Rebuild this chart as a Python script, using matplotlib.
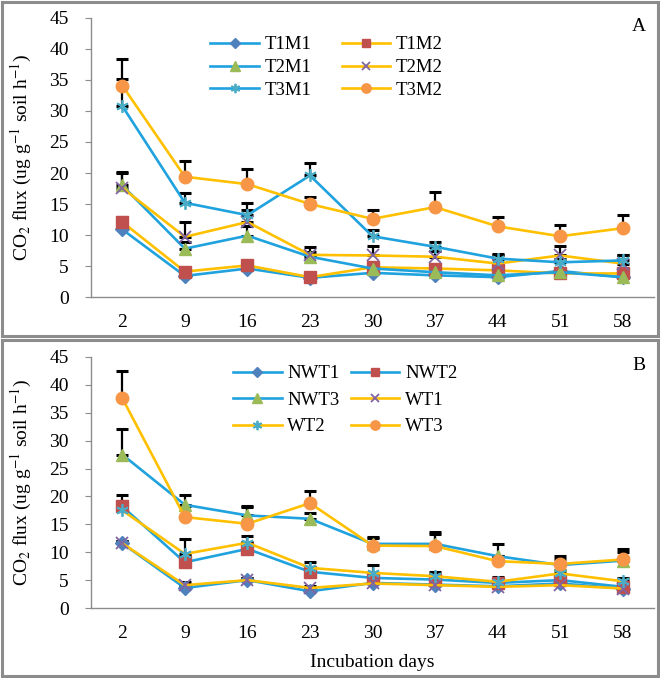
import numpy as np
import matplotlib
matplotlib.use("Agg")
import matplotlib.pyplot as plt
from matplotlib.patches import Rectangle

days = ["2", "9", "16", "23", "30", "37", "44", "51", "58"]

# panel A : means and upper error
t1m1 = [10.9, 3.4, 4.6, 3.1, 3.9, 3.5, 3.2, 4.2, 3.2]
t1m1_err = [0.7, 0.4, 0.5, 0.3, 0.4, 0.4, 0.3, 0.4, 0.3]
t1m2 = [12.1, 4.1, 5.1, 3.2, 4.8, 4.6, 4.3, 3.8, 3.8]
t1m2_err = [0.8, 0.6, 0.6, 0.4, 0.6, 0.5, 0.5, 0.5, 0.5]
t2m1 = [18.0, 7.8, 9.9, 6.5, 4.6, 4.0, 3.5, 4.0, 3.2]
t2m1_err = [2.0, 1.0, 1.5, 0.8, 0.8, 0.6, 0.6, 0.6, 0.5]
t2m2 = [17.6, 9.7, 12.1, 6.8, 6.7, 6.5, 5.4, 6.7, 5.4]
t2m2_err = [2.6, 2.4, 2.0, 1.2, 1.5, 1.0, 1.4, 1.5, 1.4]
t3m1 = [30.8, 15.2, 13.2, 19.6, 9.8, 8.1, 6.2, 5.6, 5.9]
t3m1_err = [4.4, 1.5, 1.9, 2.0, 1.0, 0.8, 0.8, 0.6, 0.8]
t3m2 = [34.1, 19.4, 18.2, 15.0, 12.6, 14.5, 11.4, 9.8, 11.1]
t3m2_err = [4.3, 2.6, 2.5, 1.2, 1.5, 2.4, 1.5, 1.8, 2.1]

# panel B
nwt1 = [11.6, 3.6, 5.0, 3.0, 4.5, 4.2, 3.9, 4.4, 3.5]
nwt1_err = [0.4, 0.5, 0.4, 0.4, 0.3, 0.3, 0.3, 0.3, 0.3]
nwt2 = [18.2, 8.2, 10.6, 6.5, 5.4, 5.1, 4.5, 5.0, 3.8]
nwt2_err = [2.1, 1.2, 1.2, 0.9, 0.8, 0.8, 0.6, 0.7, 0.7]
nwt3 = [27.5, 18.5, 16.6, 16.0, 11.5, 11.5, 9.3, 7.7, 8.5]
nwt3_err = [4.5, 1.8, 1.7, 1.0, 1.0, 2.2, 2.1, 1.0, 1.5]
wt1 = [11.6, 4.1, 5.0, 3.6, 4.4, 4.1, 3.8, 4.1, 3.5]
wt1_err = [0.4, 0.6, 0.4, 0.4, 0.3, 0.3, 0.3, 0.3, 0.3]
wt2 = [17.5, 9.7, 11.7, 7.2, 6.3, 5.7, 4.7, 6.2, 4.8]
wt2_err = [1.0, 2.6, 1.3, 1.0, 1.5, 0.8, 0.8, 0.7, 0.6]
wt3 = [37.6, 16.3, 15.1, 18.8, 11.2, 11.1, 8.4, 7.9, 8.7]
wt3_err = [4.9, 2.0, 3.0, 2.1, 1.6, 2.2, 1.0, 1.4, 1.8]

BLUE = "#1fa2dd"
GOLD = "#ffc000"
marker_style = {
    "D": ("#4f81bd", 7),
    "s": ("#c0504d", 8),
    "^": ("#9bbb59", 9),
    "x": ("#8064a2", 8),
    "*": ("#4bacc6", 9),
    "o": ("#f79646", 9),
}

plt.rcParams["font.family"] = ["Liberation Serif", "DejaVu Serif"]
plt.rcParams["mathtext.fontset"] = "stix"

fig = plt.figure(figsize=(6.6, 6.78), dpi=100)
ax_a = fig.add_axes([0.1379, 0.5619, 0.853, 0.4116])
ax_b = fig.add_axes([0.1379, 0.1032, 0.853, 0.3703])

x = np.arange(len(days))


def draw(ax, name, vals, err, line_color, mk):
    mc, ms = marker_style[mk]
    if mk == "*":
        # excel style asterisk: thin star of lines
        mk = (6, 2, 0)
    vals = np.array(vals)
    err = np.array(err)
    ax.errorbar(x, vals, yerr=[np.zeros_like(err), err], fmt="none",
                ecolor="black", elinewidth=1.6, capsize=4.5, capthick=2.2, zorder=2)
    line, = ax.plot(x, vals, color=line_color, lw=1.9, marker=mk, ms=ms,
                    mfc=mc, mec=mc, mew=1.3 if mk in ("x",) or isinstance(mk, tuple) else 1,
                    label=name, zorder=3)
    return line


def style(ax, letter):
    ax.set_xlim(-0.5, len(days) - 0.5)
    ax.set_ylim(0, 45)
    ax.set_yticks(range(0, 46, 5))
    ax.set_xticks(x)
    ax.set_xticklabels(days)
    for s in ["top", "right"]:
        ax.spines[s].set_visible(False)
    for s in ["left", "bottom"]:
        ax.spines[s].set_color("#8c8c8c")
        ax.spines[s].set_linewidth(1.0)
    ax.tick_params(axis="y", length=4, color="#8c8c8c", labelsize=14, pad=12)
    ax.tick_params(axis="x", length=0, labelsize=14, pad=12)
    ax.set_ylabel("CO$_2$ flux (ug g$^{\\mathrm{-1}}$ soil h$^{\\mathrm{-1}}$)", fontsize=14)
    ax.yaxis.set_label_coords(-0.102, 0.5)
    ax.text(0.985, 1.0, letter, transform=ax.transAxes, fontsize=14,
            ha="right", va="top")


# panel A
a1 = draw(ax_a, "T1M1", t1m1, t1m1_err, BLUE, "D")
a2 = draw(ax_a, "T1M2", t1m2, t1m2_err, GOLD, "s")
a3 = draw(ax_a, "T2M1", t2m1, t2m1_err, BLUE, "^")
a4 = draw(ax_a, "T2M2", t2m2, t2m2_err, GOLD, "x")
a5 = draw(ax_a, "T3M1", t3m1, t3m1_err, BLUE, "*")
a6 = draw(ax_a, "T3M2", t3m2, t3m2_err, GOLD, "o")
style(ax_a, "A")
ax_a.legend([a1, a3, a5, a2, a4, a6], ["T1M1", "T2M1", "T3M1", "T1M2", "T2M2", "T3M2"],
            ncol=2, frameon=False, fontsize=13.5, loc="upper left",
            bbox_to_anchor=(0.182, 0.995), handlelength=2.6, handletextpad=0.3,
            columnspacing=1.6, labelspacing=0.3, markerscale=0.75)

# panel B
b1 = draw(ax_b, "NWT1", nwt1, nwt1_err, BLUE, "D")
b2 = draw(ax_b, "NWT2", nwt2, nwt2_err, BLUE, "s")
b3 = draw(ax_b, "NWT3", nwt3, nwt3_err, BLUE, "^")
b4 = draw(ax_b, "WT1", wt1, wt1_err, GOLD, "x")
b5 = draw(ax_b, "WT2", wt2, wt2_err, GOLD, "*")
b6 = draw(ax_b, "WT3", wt3, wt3_err, GOLD, "o")
style(ax_b, "B")
ax_b.legend([b1, b3, b5, b2, b4, b6], ["NWT1", "NWT3", "WT2", "NWT2", "WT1", "WT3"],
            ncol=2, frameon=False, fontsize=13.5, loc="upper left",
            bbox_to_anchor=(0.222, 1.035), handlelength=2.6, handletextpad=0.3,
            columnspacing=0.6, labelspacing=0.5, markerscale=0.75)
ax_b.set_xlabel("Incubation days", fontsize=14, labelpad=9)

# gray frames around the two panels
fig.patches.append(Rectangle((0.003, 0.504), 0.994, 0.493, transform=fig.transFigure,
                             fill=False, ec="#8c8c8c", lw=2.2))
fig.patches.append(Rectangle((0.003, 0.003), 0.994, 0.496, transform=fig.transFigure,
                             fill=False, ec="#8c8c8c", lw=2.2))

fig.savefig("out.png", dpi=100)
